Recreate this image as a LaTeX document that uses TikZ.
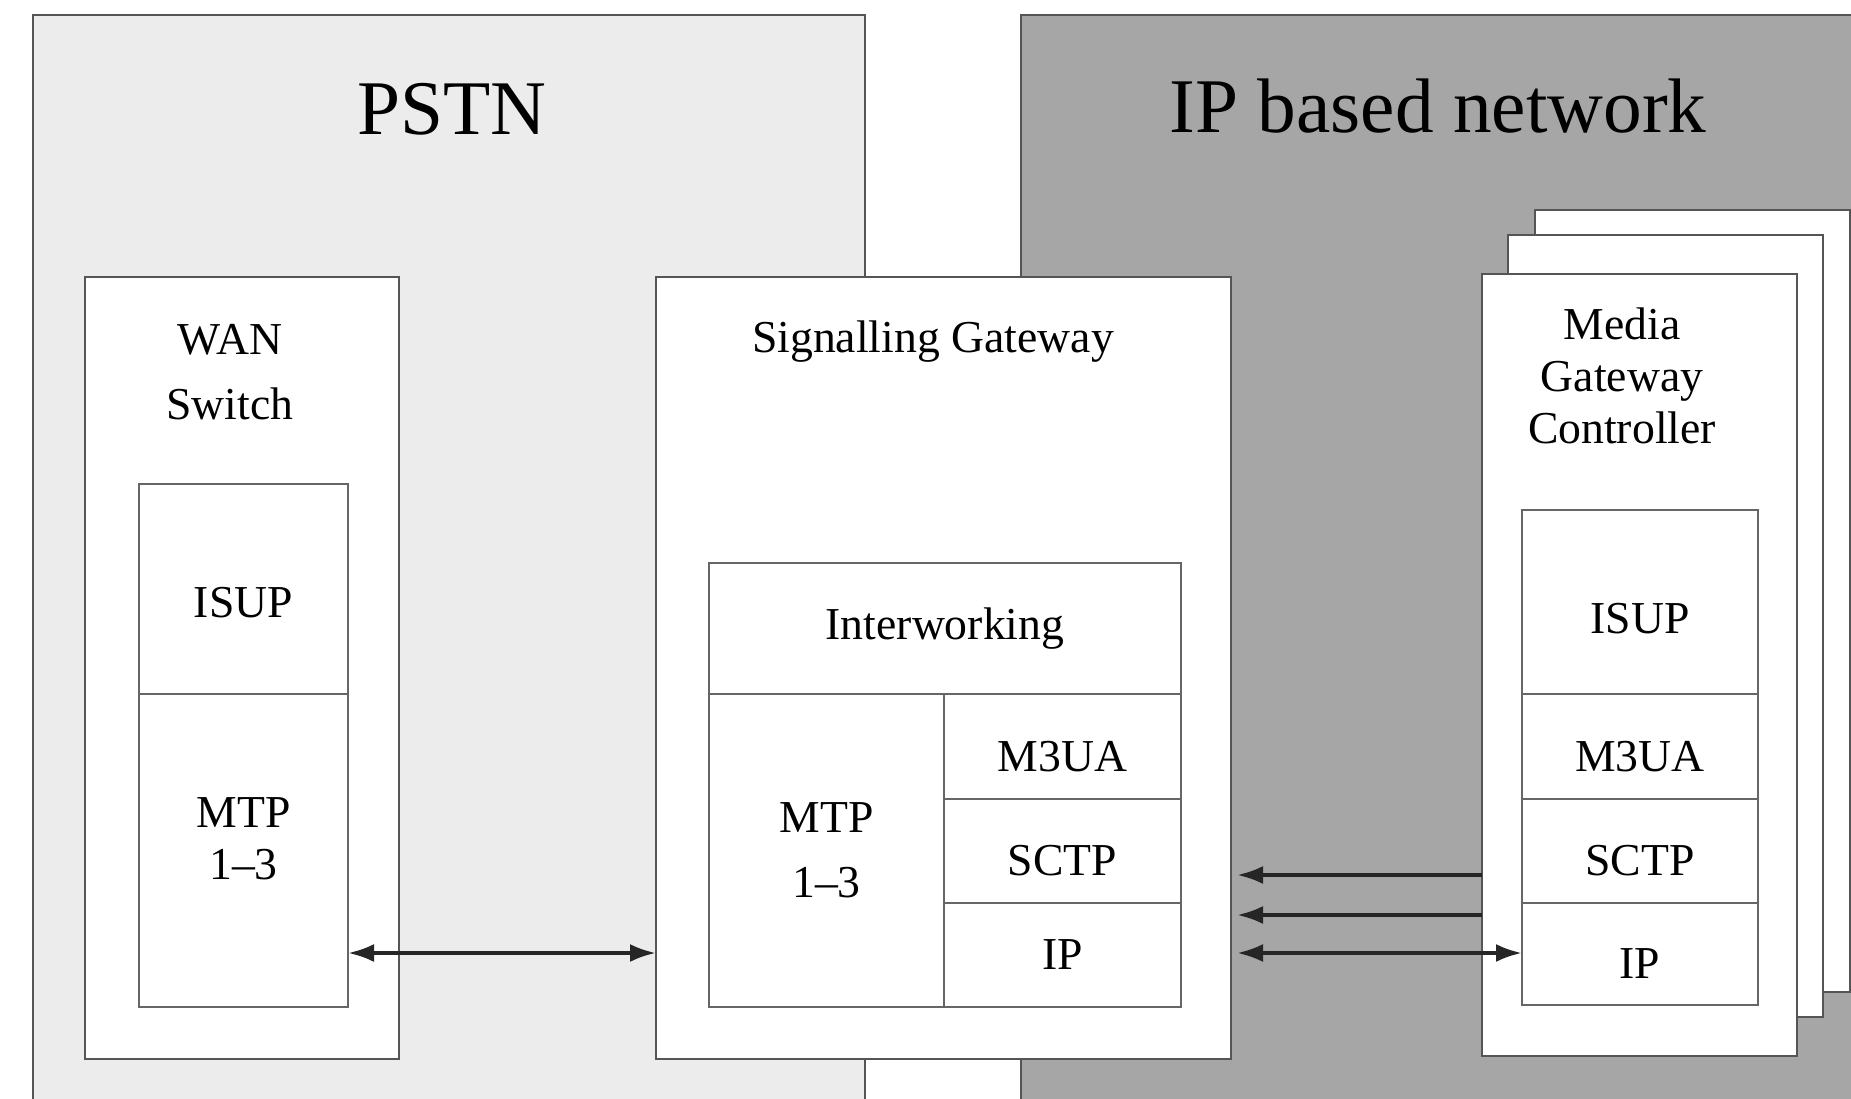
\documentclass[tikz,border=0pt]{standalone}
\usepackage{fontspec}
\setmainfont{Liberation Serif}
\usepackage{tikz}
\usetikzlibrary{arrows.meta,positioning}
\definecolor{pstncolor}{RGB}{236,236,236}
\definecolor{ipcolor}{RGB}{166,166,166}
\definecolor{edgecolor}{RGB}{85,85,85}
\newcommand{\lblfont}{\fontsize{13pt}{15pt}\selectfont}
\newcommand{\bigfont}{\fontsize{22pt}{26pt}\selectfont}

\begin{document}
\begin{tikzpicture}[
        x=0.1mm, y=-0.1mm,
        region/.style={rectangle, draw=edgecolor, line width=0.6pt, inner sep=0pt, outer sep=0pt},
        device/.style={rectangle, draw=edgecolor, fill=white, line width=0.6pt, inner sep=0pt, outer sep=0pt},
        layer/.style={rectangle, draw=edgecolor!90, fill=white, line width=0.5pt, inner sep=0pt, outer sep=0pt, align=center, font=\lblfont, text height=14pt, text depth=0pt},
        title/.style={align=center, inner sep=0pt, font=\lblfont},
        tip/.tip={Latex[length=2.6mm,width=1.8mm]},
        link/.style={tip-tip, line width=1.1pt, black!85}
    ]
        \useasboundingbox (0,0) rectangle (1851,1099);

        % the two networks
        \node[region, fill=pstncolor, minimum width=83.2mm, minimum height=109.5mm] (pstn) at (449,562.5) {};
        \node[region, fill=ipcolor, minimum width=83.9mm, minimum height=109.5mm] (ipnet) at (1440.5,562.5) {};
        \node[font=\bigfont, inner sep=0pt] (pstn-title) at (452,109) {PSTN};
        \node[font=\bigfont, inner sep=0pt] (ip-title) at (1438,106) {IP based network};

        % WAN switch
        \node[device, minimum width=31.4mm, minimum height=78.2mm] (wan) at (242,668) {};
        \node[title, font=\fontsize{13pt}{18.5pt}\selectfont] (wan-title) at (230,372) {WAN\\Switch};
        \node[layer, minimum width=20.9mm, minimum height=21mm, text height=16pt] (wan-isup) at (243.5,589) {ISUP};
        \node[layer, minimum width=20.9mm, minimum height=31.3mm, text height=, text depth=6.8pt, font=\fontsize{13pt}{15pt}\selectfont] (wan-mtp) at (243.5,850.5) {MTP\\1--3};

        % signalling gateway
        \node[device, minimum width=57.5mm, minimum height=78.2mm] (sg) at (943.5,668) {};
        \node[title] (sg-title) at (933,342) {Signalling Gateway};
        \node[layer, minimum width=47.2mm, minimum height=13.1mm, text height=, text depth=] (sg-iw) at (945,628.5) {Interworking};
        \node[layer, minimum width=23.5mm, minimum height=31.3mm, text height=, text depth=, font=\fontsize{13pt}{18.5pt}\selectfont] (sg-mtp) at (826.5,850.5) {MTP\\1--3};
        \node[layer, minimum width=23.7mm, minimum height=10.5mm] (sg-m3ua) at (1062.5,746.5) {M3UA};
        \node[layer, minimum width=23.7mm, minimum height=10.4mm] (sg-sctp) at (1062.5,851) {SCTP};
        \node[layer, minimum width=23.7mm, minimum height=10.4mm, text height=, text depth=] (sg-ip) at (1062.5,955) {IP};

        % media gateway controllers (stacked)
        \node[device, minimum width=31.5mm, minimum height=78.2mm] (mgc-back) at (1692.5,601) {};
        \node[device, minimum width=31.5mm, minimum height=78.2mm] (mgc-mid) at (1665.5,626) {};
        \node[device, minimum width=31.5mm, minimum height=78.2mm] (mgc) at (1639.5,665) {};
        \node[title, font=\fontsize{13pt}{14.8pt}\selectfont] (mgc-title) at (1622,376) {Media\\Gateway\\Controller};
        \node[layer, minimum width=23.6mm, minimum height=18.4mm, text height=18pt] (mgc-isup) at (1640,602) {ISUP};
        \node[layer, minimum width=23.6mm, minimum height=10.5mm] (mgc-m3ua) at (1640,746.5) {M3UA};
        \node[layer, minimum width=23.6mm, minimum height=10.4mm] (mgc-sctp) at (1640,851) {SCTP};
        \node[layer, minimum width=23.6mm, minimum height=10.2mm] (mgc-ip) at (1640,954) {IP};

        % links
        \coordinate (y-wan) at (0,953);
        \coordinate (y-one) at (0,875);
        \coordinate (y-two) at (0,915);
        \coordinate (y-three) at (0,953);
        \draw[link] (wan-mtp.east |- y-wan) -- (sg.west |- y-wan);
        \draw[link, -, tip-, shorten <=0.6mm] (sg.east |- y-one) -- (mgc.west |- y-one);
        \draw[link, -, tip-, shorten <=0.6mm] (sg.east |- y-two) -- (mgc.west |- y-two);
        \draw[link, shorten <=0.6mm] (sg.east |- y-three) -- (mgc-ip.west |- y-three);
    \end{tikzpicture}
\end{document}
